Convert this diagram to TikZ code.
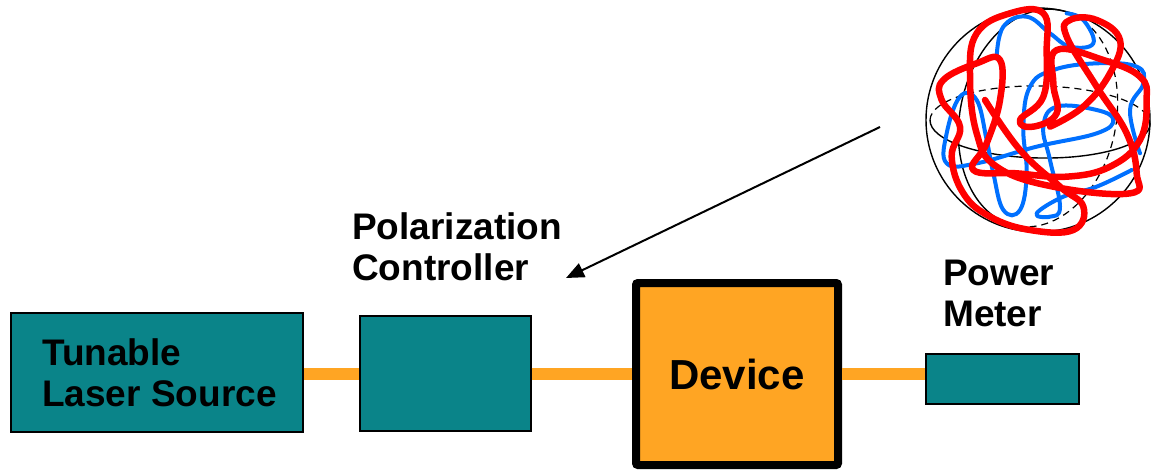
\documentclass[tikz,border=0pt]{standalone}
\usepackage{fontspec}
\setmainfont{Liberation Sans}
\usetikzlibrary{arrows.meta}
\definecolor{boxteal}{RGB}{10,132,137}
\definecolor{fiberorange}{RGB}{255,165,35}
\definecolor{trackblue}{RGB}{0,112,255}
\definecolor{trackred}{RGB}{255,0,0}
\begin{document}
\begin{tikzpicture}[x=1pt,y=-1pt,
  tealbox/.style={draw=black, line width=1.5pt, fill=boxteal, inner sep=0, anchor=north west},
  devbox/.style={draw=black, line width=8pt, fill=fiberorange, rounded corners=2pt,
    inner sep=0, font=\fontsize{42}{46}\selectfont\bfseries},
  lbl/.style={font=\fontsize{37}{41}\selectfont\bfseries, align=left, inner sep=0, anchor=north west},
  fiber/.style={draw=fiberorange, line width=12pt},
  pointer/.style={draw=black, line width=2pt, -{Triangle[length=18pt,width=15pt]}},
  sphereline/.style={draw=black, line width=1.4pt},
  backline/.style={draw=black, line width=1.2pt, dash pattern=on 7pt off 5pt},
  track/.style={line width=#1, line cap=round, line join=round},
]
\useasboundingbox (0,0) rectangle (1151,471);

% instrument chain
\node[tealbox, minimum width=292pt, minimum height=119pt] (tls) at (10,312) {};
\node[tealbox, minimum width=171pt, minimum height=115pt] (pc) at (359,315) {};
\node[devbox, minimum width=202pt, minimum height=182pt] (dev) at (737,374) {Device};
\node[tealbox, minimum width=153pt, minimum height=50pt] (pm) at (925,353) {};

% fibre links
\draw[fiber] (tls.east |- dev.center) -- (pc.west |- dev.center);
\draw[fiber] (pc.east |- dev.center) -- (dev.west);
\draw[fiber] (dev.east) -- (pm.west |- dev.center);

% labels
\node[lbl] (tlslbl) at (42,338) {Tunable\\Laser Source};
\node[lbl] (pclbl) at (352,212) {Polarization\\Controller};
\node[lbl] (pmlbl) at (943,260) {Power\\Meter};

% Poincare sphere
\node[circle, draw=black, line width=1.4pt, minimum size=224pt, inner sep=0] (sph) at (1038,120) {};
\begin{scope}[shift={(1040,122)}, rotate=-1]
  \draw[backline] (-110,0) arc[start angle=180, end angle=360, x radius=110, y radius=36];
  \draw[sphereline] (110,0) arc[start angle=0, end angle=180, x radius=110, y radius=36];
\end{scope}
\begin{scope}[shift={(1038,118)}, rotate=-12]
  \draw[sphereline] (0,110) arc[start angle=90, end angle=270, x radius=78, y radius=110];
  \draw[backline] (0,-110) arc[start angle=-90, end angle=90, x radius=78, y radius=110];
\end{scope}

% polarisation traces on the sphere
\begin{scope}[shift={(910,0)}, scale=1/3]
  \draw[track=4pt, trackblue] plot[smooth, tension=0.7] coordinates {
    (690,460) (660,330) (700,250) (680,200) (560,190) (430,210) (360,260)
    (340,380) (350,520) (330,630) (280,630) (250,520) (230,420) (200,300)
    (150,290) (110,400) (110,490) (200,490) (380,440) (560,400) (610,360)
    (560,330) (440,320) (400,380) (420,480) (450,620) (420,650) (380,640)
    (460,590) (560,560) (665,510)};
  \draw[track=4pt, trackblue] plot[smooth, tension=0.7] coordinates {
    (260,170) (280,80) (350,50) (420,100) (480,140) (550,130) (520,60) (470,40)};
  \draw[track=6.5pt, trackred] plot[smooth, tension=0.7] coordinates {
    (225,300) (330,450) (450,560) (520,620) (490,690) (360,690) (240,650)
    (160,580) (125,470) (150,380) (95,300) (100,240) (200,190) (270,180)
    (270,300) (230,430) (190,510) (320,520) (470,530) (600,500) (690,420)
    (710,300) (690,230) (580,180) (440,150) (430,250) (440,340) (370,380)
    (330,360) (400,290) (410,150) (400,40) (300,40) (200,100) (180,230)
    (200,400) (260,500) (430,560) (660,580) (680,520) (650,400) (560,260)
    (470,110) (480,60) (560,60) (630,120) (600,220) (520,320) (420,380)};
\end{scope}

% pointer from the sphere to the controller
\coordinate (sphtail) at (880,127);
\coordinate (pchead) at (566,278);
\draw[pointer] (sphtail) -- (pchead);
\end{tikzpicture}
\end{document}
